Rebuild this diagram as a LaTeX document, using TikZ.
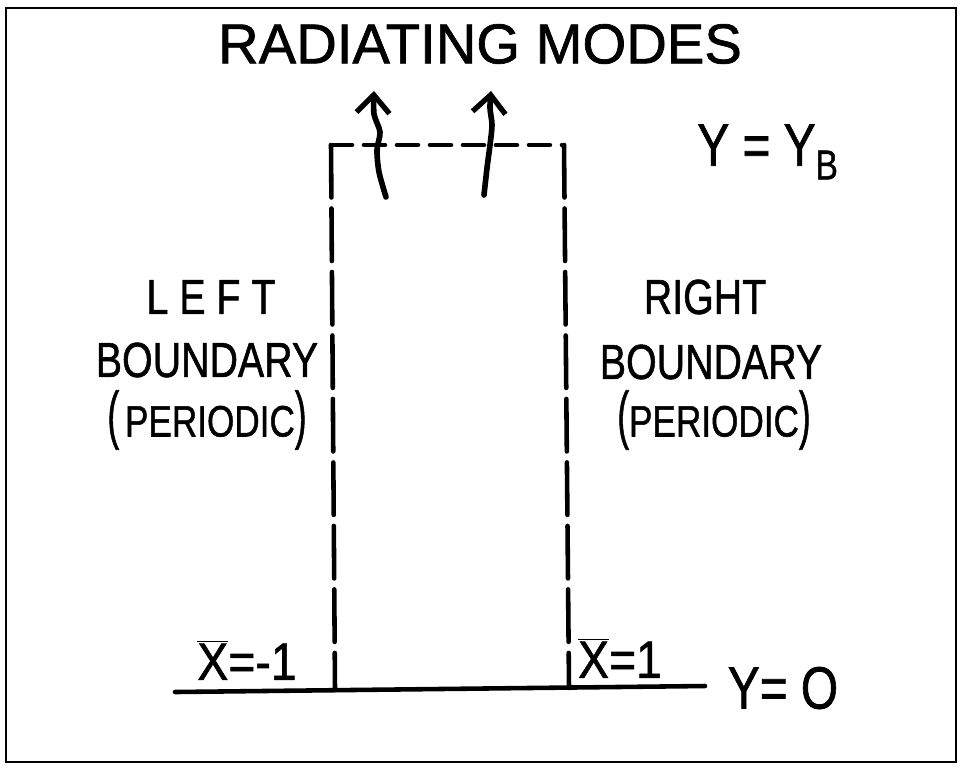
\documentclass[tikz,border=0pt]{standalone}
\usepackage{fontspec}
\usepackage{graphicx}
\setmainfont{Liberation Sans}[FakeBold=1.2]
\usetikzlibrary{arrows.meta}
\newcommand{\bigparen}[1]{\scalebox{1}[1.45]{#1}}
\newcommand{\barx}{\(\overline{\mbox{X}}\)}
\begin{document}
\begin{tikzpicture}[x=0.02cm,y=-0.02cm,
  hand/.style={line width=2.6pt,line cap=round},
  wall/.style={hand,dash pattern=on 1.05cm off 0.22cm},
  lid/.style={hand,dash pattern=on 0.42cm off 0.24cm},
  mode/.style={hand,line width=3.2pt,-{Straight Barb[length=3.6mm,width=6.6mm,line width=3pt]}},
  lbl/.style={font=\fontsize{28}{30}\selectfont,xscale=0.8,inner sep=0pt}]
  \useasboundingbox (0,0) rectangle (963,769);
  % frame of the sheet
  \draw[line width=1.2pt] (6,8) rectangle (956,762);

  % corners of the domain
  \coordinate (lt) at (331,145);
  \coordinate (rt) at (564,145);
  \coordinate (lb) at (335,690);
  \coordinate (rb) at (569,688);
  \coordinate (bl) at (175,692);
  \coordinate (br) at (705,686);

  % boundaries
  \draw[hand] (bl) -- (br);
  \draw[wall] (lt) -- (lb);
  \draw[wall] (rt) -- (rb);
  \draw[lid] (lt) -- (rt);

  % radiating modes
  \coordinate (m1s) at (386,197);
  \coordinate (m1e) at (374,91);
  \coordinate (m2s) at (484,195);
  \coordinate (m2e) at (491,91);
  \draw[mode] plot[smooth] coordinates {(m1s) (379,172) (377,150) (380,132) (374,114) (m1e)};
  \draw[mode] plot[smooth] coordinates {(m2s) (487,168) (490,145) (492,125) (490,108) (m2e)};

  % labels
  \node[font=\fontsize{32}{34}\selectfont,inner sep=0pt] (title) at (480,44) {RADIATING MODES};
  \node[lbl,font=\fontsize{34}{36}\selectfont] (top) at (768,152) {Y = Y\textsubscript{B}};

  \node[lbl] (left1) at (211,297) {L E F T};
  \node[lbl] (left2) at (207,360) {BOUNDARY};
  \node[lbl,font=\fontsize{25}{30}\selectfont] (left3) at (207,420) {\bigparen{(}\,PERIODIC\bigparen{)}};

  \node[lbl] (right1) at (705,297) {RIGHT};
  \node[lbl] (right2) at (711,362) {BOUNDARY};
  \node[lbl,font=\fontsize{25}{30}\selectfont] (right3) at (714,420) {\bigparen{(}PERIODIC\bigparen{)}};

  \node[lbl,font=\fontsize{30}{32}\selectfont,xscale=1.1] (xl) at (247,660) {\barx=-1};
  \node[lbl,font=\fontsize{30}{32}\selectfont,xscale=1.1] (xr) at (620,658) {\barx=1};
  \node[lbl,font=\fontsize{34}{36}\selectfont,xscale=1] (bot) at (783,688) {Y= O};
\end{tikzpicture}
\end{document}
